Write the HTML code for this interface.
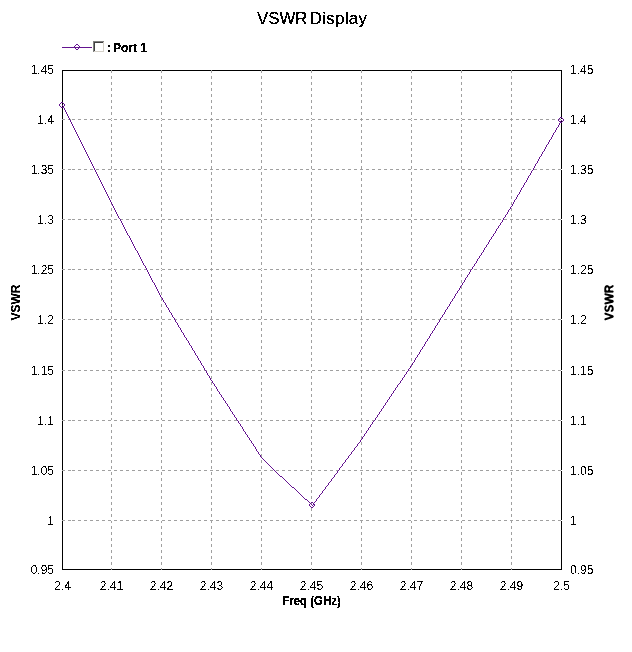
<!DOCTYPE html>
<html><head><meta charset="utf-8"><title>VSWR Display</title><style>
html,body{margin:0;padding:0;background:#fff;overflow:hidden}
svg{display:block}
text{font-family:"Liberation Sans",Arial,sans-serif;fill:#000}
.t{font-size:12px}
.b{font-size:12px;font-weight:bold}
</style></head><body>
<svg width="632" height="652" viewBox="0 0 632 652">
<defs><filter id="al" x="0" y="0" width="632" height="652" filterUnits="userSpaceOnUse"><feComponentTransfer><feFuncA type="discrete" tableValues="0 1"/></feComponentTransfer></filter><filter id="ab" x="0" y="0" width="632" height="652" filterUnits="userSpaceOnUse"><feComponentTransfer><feFuncA type="discrete" tableValues="0 1 1"/></feComponentTransfer></filter><filter id="ac" x="0" y="0" width="632" height="652" filterUnits="userSpaceOnUse"><feComponentTransfer><feFuncA type="linear" slope="2" intercept="-0.3"/></feComponentTransfer></filter></defs>
<rect width="632" height="652" fill="#fff"/>
<g shape-rendering="crispEdges"><line x1="62" y1="47.5" x2="92" y2="47.5" stroke="#641490"/></g>
<path d="M76 44h1v1h-1zM77 44h1v1h-1zM75 45h1v1h-1zM78 45h1v1h-1zM74 46h1v1h-1zM79 46h1v1h-1zM74 47h1v1h-1zM79 47h1v1h-1zM75 48h1v1h-1zM78 48h1v1h-1zM76 49h1v1h-1zM77 49h1v1h-1z" fill="#641490" shape-rendering="crispEdges"/>
<g shape-rendering="crispEdges"><rect x="93" y="41" width="12" height="12" fill="#fff"/><path d="M93.5 53V41.5H105" fill="none" stroke="#808080"/><path d="M94.5 52V42.5H104" fill="none" stroke="#404040"/><path d="M93 52.5H104.5V41" fill="none" stroke="#ffffff"/><path d="M94 51.5H103.5V42" fill="none" stroke="#d4d0c8"/></g>
<g shape-rendering="crispEdges" fill="none">
<rect x="62.5" y="70.5" width="499" height="499" stroke="#000"/>
</g>
<line x1="111.5" y1="70" x2="111.5" y2="570" stroke="#a0a0a0" stroke-dasharray="3 3" shape-rendering="crispEdges"/>
<line x1="161.5" y1="70" x2="161.5" y2="570" stroke="#a0a0a0" stroke-dasharray="3 3" shape-rendering="crispEdges"/>
<line x1="211.5" y1="70" x2="211.5" y2="570" stroke="#a0a0a0" stroke-dasharray="3 3" shape-rendering="crispEdges"/>
<line x1="261.5" y1="70" x2="261.5" y2="570" stroke="#a0a0a0" stroke-dasharray="3 3" shape-rendering="crispEdges"/>
<line x1="311.5" y1="70" x2="311.5" y2="570" stroke="#a0a0a0" stroke-dasharray="3 3" shape-rendering="crispEdges"/>
<line x1="361.5" y1="70" x2="361.5" y2="570" stroke="#a0a0a0" stroke-dasharray="3 3" shape-rendering="crispEdges"/>
<line x1="411.5" y1="70" x2="411.5" y2="570" stroke="#a0a0a0" stroke-dasharray="3 3" shape-rendering="crispEdges"/>
<line x1="461.5" y1="70" x2="461.5" y2="570" stroke="#a0a0a0" stroke-dasharray="3 3" shape-rendering="crispEdges"/>
<line x1="511.5" y1="70" x2="511.5" y2="570" stroke="#a0a0a0" stroke-dasharray="3 3" shape-rendering="crispEdges"/>
<path d="M62 119h3v1h-3zM68 119h3v1h-3zM72 119h3v1h-3zM78 119h3v1h-3zM84 119h3v1h-3zM90 119h3v1h-3zM96 119h3v1h-3zM102 119h3v1h-3zM108 119h3v1h-3zM114 119h3v1h-3zM120 119h3v1h-3zM126 119h3v1h-3zM132 119h3v1h-3zM138 119h3v1h-3zM144 119h3v1h-3zM150 119h3v1h-3zM156 119h3v1h-3zM162 119h3v1h-3zM168 119h3v1h-3zM174 119h3v1h-3zM180 119h3v1h-3zM186 119h3v1h-3zM192 119h3v1h-3zM198 119h3v1h-3zM204 119h3v1h-3zM210 119h3v1h-3zM216 119h3v1h-3zM222 119h3v1h-3zM228 119h3v1h-3zM234 119h3v1h-3zM240 119h3v1h-3zM246 119h3v1h-3zM252 119h3v1h-3zM258 119h3v1h-3zM264 119h3v1h-3zM270 119h3v1h-3zM276 119h3v1h-3zM282 119h3v1h-3zM288 119h3v1h-3zM294 119h3v1h-3zM300 119h3v1h-3zM306 119h3v1h-3zM312 119h3v1h-3zM318 119h3v1h-3zM324 119h3v1h-3zM330 119h3v1h-3zM336 119h3v1h-3zM342 119h3v1h-3zM348 119h3v1h-3zM354 119h3v1h-3zM360 119h3v1h-3zM366 119h3v1h-3zM372 119h3v1h-3zM378 119h3v1h-3zM384 119h3v1h-3zM390 119h3v1h-3zM396 119h3v1h-3zM402 119h3v1h-3zM408 119h3v1h-3zM414 119h3v1h-3zM420 119h3v1h-3zM426 119h3v1h-3zM432 119h3v1h-3zM438 119h3v1h-3zM444 119h3v1h-3zM450 119h3v1h-3zM456 119h3v1h-3zM462 119h3v1h-3zM468 119h3v1h-3zM474 119h3v1h-3zM480 119h3v1h-3zM486 119h3v1h-3zM492 119h3v1h-3zM498 119h3v1h-3zM504 119h3v1h-3zM510 119h3v1h-3zM516 119h3v1h-3zM522 119h3v1h-3zM528 119h3v1h-3zM534 119h3v1h-3zM540 119h3v1h-3zM546 119h3v1h-3zM552 119h3v1h-3zM558 119h3v1h-3zM62 169h3v1h-3zM68 169h3v1h-3zM72 169h3v1h-3zM78 169h3v1h-3zM84 169h3v1h-3zM90 169h3v1h-3zM96 169h3v1h-3zM102 169h3v1h-3zM108 169h3v1h-3zM114 169h3v1h-3zM120 169h3v1h-3zM126 169h3v1h-3zM132 169h3v1h-3zM138 169h3v1h-3zM144 169h3v1h-3zM150 169h3v1h-3zM156 169h3v1h-3zM162 169h3v1h-3zM168 169h3v1h-3zM174 169h3v1h-3zM180 169h3v1h-3zM186 169h3v1h-3zM192 169h3v1h-3zM198 169h3v1h-3zM204 169h3v1h-3zM210 169h3v1h-3zM216 169h3v1h-3zM222 169h3v1h-3zM228 169h3v1h-3zM234 169h3v1h-3zM240 169h3v1h-3zM246 169h3v1h-3zM252 169h3v1h-3zM258 169h3v1h-3zM264 169h3v1h-3zM270 169h3v1h-3zM276 169h3v1h-3zM282 169h3v1h-3zM288 169h3v1h-3zM294 169h3v1h-3zM300 169h3v1h-3zM306 169h3v1h-3zM312 169h3v1h-3zM318 169h3v1h-3zM324 169h3v1h-3zM330 169h3v1h-3zM336 169h3v1h-3zM342 169h3v1h-3zM348 169h3v1h-3zM354 169h3v1h-3zM360 169h3v1h-3zM366 169h3v1h-3zM372 169h3v1h-3zM378 169h3v1h-3zM384 169h3v1h-3zM390 169h3v1h-3zM396 169h3v1h-3zM402 169h3v1h-3zM408 169h3v1h-3zM414 169h3v1h-3zM420 169h3v1h-3zM426 169h3v1h-3zM432 169h3v1h-3zM438 169h3v1h-3zM444 169h3v1h-3zM450 169h3v1h-3zM456 169h3v1h-3zM462 169h3v1h-3zM468 169h3v1h-3zM474 169h3v1h-3zM480 169h3v1h-3zM486 169h3v1h-3zM492 169h3v1h-3zM498 169h3v1h-3zM504 169h3v1h-3zM510 169h3v1h-3zM516 169h3v1h-3zM522 169h3v1h-3zM528 169h3v1h-3zM534 169h3v1h-3zM540 169h3v1h-3zM546 169h3v1h-3zM552 169h3v1h-3zM558 169h3v1h-3zM62 219h3v1h-3zM68 219h3v1h-3zM72 219h3v1h-3zM78 219h3v1h-3zM84 219h3v1h-3zM90 219h3v1h-3zM96 219h3v1h-3zM102 219h3v1h-3zM108 219h3v1h-3zM114 219h3v1h-3zM120 219h3v1h-3zM126 219h3v1h-3zM132 219h3v1h-3zM138 219h3v1h-3zM144 219h3v1h-3zM150 219h3v1h-3zM156 219h3v1h-3zM162 219h3v1h-3zM168 219h3v1h-3zM174 219h3v1h-3zM180 219h3v1h-3zM186 219h3v1h-3zM192 219h3v1h-3zM198 219h3v1h-3zM204 219h3v1h-3zM210 219h3v1h-3zM216 219h3v1h-3zM222 219h3v1h-3zM228 219h3v1h-3zM234 219h3v1h-3zM240 219h3v1h-3zM246 219h3v1h-3zM252 219h3v1h-3zM258 219h3v1h-3zM264 219h3v1h-3zM270 219h3v1h-3zM276 219h3v1h-3zM282 219h3v1h-3zM288 219h3v1h-3zM294 219h3v1h-3zM300 219h3v1h-3zM306 219h3v1h-3zM312 219h3v1h-3zM318 219h3v1h-3zM324 219h3v1h-3zM330 219h3v1h-3zM336 219h3v1h-3zM342 219h3v1h-3zM348 219h3v1h-3zM354 219h3v1h-3zM360 219h3v1h-3zM366 219h3v1h-3zM372 219h3v1h-3zM378 219h3v1h-3zM384 219h3v1h-3zM390 219h3v1h-3zM396 219h3v1h-3zM402 219h3v1h-3zM408 219h3v1h-3zM414 219h3v1h-3zM420 219h3v1h-3zM426 219h3v1h-3zM432 219h3v1h-3zM438 219h3v1h-3zM444 219h3v1h-3zM450 219h3v1h-3zM456 219h3v1h-3zM462 219h3v1h-3zM468 219h3v1h-3zM474 219h3v1h-3zM480 219h3v1h-3zM486 219h3v1h-3zM492 219h3v1h-3zM498 219h3v1h-3zM504 219h3v1h-3zM510 219h3v1h-3zM516 219h3v1h-3zM522 219h3v1h-3zM528 219h3v1h-3zM534 219h3v1h-3zM540 219h3v1h-3zM546 219h3v1h-3zM552 219h3v1h-3zM558 219h3v1h-3zM62 269h3v1h-3zM68 269h3v1h-3zM72 269h3v1h-3zM78 269h3v1h-3zM84 269h3v1h-3zM90 269h3v1h-3zM96 269h3v1h-3zM102 269h3v1h-3zM108 269h3v1h-3zM114 269h3v1h-3zM120 269h3v1h-3zM126 269h3v1h-3zM132 269h3v1h-3zM138 269h3v1h-3zM144 269h3v1h-3zM150 269h3v1h-3zM156 269h3v1h-3zM162 269h3v1h-3zM168 269h3v1h-3zM174 269h3v1h-3zM180 269h3v1h-3zM186 269h3v1h-3zM192 269h3v1h-3zM198 269h3v1h-3zM204 269h3v1h-3zM210 269h3v1h-3zM216 269h3v1h-3zM222 269h3v1h-3zM228 269h3v1h-3zM234 269h3v1h-3zM240 269h3v1h-3zM246 269h3v1h-3zM252 269h3v1h-3zM258 269h3v1h-3zM264 269h3v1h-3zM270 269h3v1h-3zM276 269h3v1h-3zM282 269h3v1h-3zM288 269h3v1h-3zM294 269h3v1h-3zM300 269h3v1h-3zM306 269h3v1h-3zM312 269h3v1h-3zM318 269h3v1h-3zM324 269h3v1h-3zM330 269h3v1h-3zM336 269h3v1h-3zM342 269h3v1h-3zM348 269h3v1h-3zM354 269h3v1h-3zM360 269h3v1h-3zM366 269h3v1h-3zM372 269h3v1h-3zM378 269h3v1h-3zM384 269h3v1h-3zM390 269h3v1h-3zM396 269h3v1h-3zM402 269h3v1h-3zM408 269h3v1h-3zM414 269h3v1h-3zM420 269h3v1h-3zM426 269h3v1h-3zM432 269h3v1h-3zM438 269h3v1h-3zM444 269h3v1h-3zM450 269h3v1h-3zM456 269h3v1h-3zM462 269h3v1h-3zM468 269h3v1h-3zM474 269h3v1h-3zM480 269h3v1h-3zM486 269h3v1h-3zM492 269h3v1h-3zM498 269h3v1h-3zM504 269h3v1h-3zM510 269h3v1h-3zM516 269h3v1h-3zM522 269h3v1h-3zM528 269h3v1h-3zM534 269h3v1h-3zM540 269h3v1h-3zM546 269h3v1h-3zM552 269h3v1h-3zM558 269h3v1h-3zM62 319h3v1h-3zM68 319h3v1h-3zM72 319h3v1h-3zM78 319h3v1h-3zM84 319h3v1h-3zM90 319h3v1h-3zM96 319h3v1h-3zM102 319h3v1h-3zM108 319h3v1h-3zM114 319h3v1h-3zM120 319h3v1h-3zM126 319h3v1h-3zM132 319h3v1h-3zM138 319h3v1h-3zM144 319h3v1h-3zM150 319h3v1h-3zM156 319h3v1h-3zM162 319h3v1h-3zM168 319h3v1h-3zM174 319h3v1h-3zM180 319h3v1h-3zM186 319h3v1h-3zM192 319h3v1h-3zM198 319h3v1h-3zM204 319h3v1h-3zM210 319h3v1h-3zM216 319h3v1h-3zM222 319h3v1h-3zM228 319h3v1h-3zM234 319h3v1h-3zM240 319h3v1h-3zM246 319h3v1h-3zM252 319h3v1h-3zM258 319h3v1h-3zM264 319h3v1h-3zM270 319h3v1h-3zM276 319h3v1h-3zM282 319h3v1h-3zM288 319h3v1h-3zM294 319h3v1h-3zM300 319h3v1h-3zM306 319h3v1h-3zM312 319h3v1h-3zM318 319h3v1h-3zM324 319h3v1h-3zM330 319h3v1h-3zM336 319h3v1h-3zM342 319h3v1h-3zM348 319h3v1h-3zM354 319h3v1h-3zM360 319h3v1h-3zM366 319h3v1h-3zM372 319h3v1h-3zM378 319h3v1h-3zM384 319h3v1h-3zM390 319h3v1h-3zM396 319h3v1h-3zM402 319h3v1h-3zM408 319h3v1h-3zM414 319h3v1h-3zM420 319h3v1h-3zM426 319h3v1h-3zM432 319h3v1h-3zM438 319h3v1h-3zM444 319h3v1h-3zM450 319h3v1h-3zM456 319h3v1h-3zM462 319h3v1h-3zM468 319h3v1h-3zM474 319h3v1h-3zM480 319h3v1h-3zM486 319h3v1h-3zM492 319h3v1h-3zM498 319h3v1h-3zM504 319h3v1h-3zM510 319h3v1h-3zM516 319h3v1h-3zM522 319h3v1h-3zM528 319h3v1h-3zM534 319h3v1h-3zM540 319h3v1h-3zM546 319h3v1h-3zM552 319h3v1h-3zM558 319h3v1h-3zM62 370h3v1h-3zM68 370h3v1h-3zM72 370h3v1h-3zM78 370h3v1h-3zM84 370h3v1h-3zM90 370h3v1h-3zM96 370h3v1h-3zM102 370h3v1h-3zM108 370h3v1h-3zM114 370h3v1h-3zM120 370h3v1h-3zM126 370h3v1h-3zM132 370h3v1h-3zM138 370h3v1h-3zM144 370h3v1h-3zM150 370h3v1h-3zM156 370h3v1h-3zM162 370h3v1h-3zM168 370h3v1h-3zM174 370h3v1h-3zM180 370h3v1h-3zM186 370h3v1h-3zM192 370h3v1h-3zM198 370h3v1h-3zM204 370h3v1h-3zM210 370h3v1h-3zM216 370h3v1h-3zM222 370h3v1h-3zM228 370h3v1h-3zM234 370h3v1h-3zM240 370h3v1h-3zM246 370h3v1h-3zM252 370h3v1h-3zM258 370h3v1h-3zM264 370h3v1h-3zM270 370h3v1h-3zM276 370h3v1h-3zM282 370h3v1h-3zM288 370h3v1h-3zM294 370h3v1h-3zM300 370h3v1h-3zM306 370h3v1h-3zM312 370h3v1h-3zM318 370h3v1h-3zM324 370h3v1h-3zM330 370h3v1h-3zM336 370h3v1h-3zM342 370h3v1h-3zM348 370h3v1h-3zM354 370h3v1h-3zM360 370h3v1h-3zM366 370h3v1h-3zM372 370h3v1h-3zM378 370h3v1h-3zM384 370h3v1h-3zM390 370h3v1h-3zM396 370h3v1h-3zM402 370h3v1h-3zM408 370h3v1h-3zM414 370h3v1h-3zM420 370h3v1h-3zM426 370h3v1h-3zM432 370h3v1h-3zM438 370h3v1h-3zM444 370h3v1h-3zM450 370h3v1h-3zM456 370h3v1h-3zM462 370h3v1h-3zM468 370h3v1h-3zM474 370h3v1h-3zM480 370h3v1h-3zM486 370h3v1h-3zM492 370h3v1h-3zM498 370h3v1h-3zM504 370h3v1h-3zM510 370h3v1h-3zM516 370h3v1h-3zM522 370h3v1h-3zM528 370h3v1h-3zM534 370h3v1h-3zM540 370h3v1h-3zM546 370h3v1h-3zM552 370h3v1h-3zM558 370h3v1h-3zM62 420h3v1h-3zM68 420h3v1h-3zM72 420h3v1h-3zM78 420h3v1h-3zM84 420h3v1h-3zM90 420h3v1h-3zM96 420h3v1h-3zM102 420h3v1h-3zM108 420h3v1h-3zM114 420h3v1h-3zM120 420h3v1h-3zM126 420h3v1h-3zM132 420h3v1h-3zM138 420h3v1h-3zM144 420h3v1h-3zM150 420h3v1h-3zM156 420h3v1h-3zM162 420h3v1h-3zM168 420h3v1h-3zM174 420h3v1h-3zM180 420h3v1h-3zM186 420h3v1h-3zM192 420h3v1h-3zM198 420h3v1h-3zM204 420h3v1h-3zM210 420h3v1h-3zM216 420h3v1h-3zM222 420h3v1h-3zM228 420h3v1h-3zM234 420h3v1h-3zM240 420h3v1h-3zM246 420h3v1h-3zM252 420h3v1h-3zM258 420h3v1h-3zM264 420h3v1h-3zM270 420h3v1h-3zM276 420h3v1h-3zM282 420h3v1h-3zM288 420h3v1h-3zM294 420h3v1h-3zM300 420h3v1h-3zM306 420h3v1h-3zM312 420h3v1h-3zM318 420h3v1h-3zM324 420h3v1h-3zM330 420h3v1h-3zM336 420h3v1h-3zM342 420h3v1h-3zM348 420h3v1h-3zM354 420h3v1h-3zM360 420h3v1h-3zM366 420h3v1h-3zM372 420h3v1h-3zM378 420h3v1h-3zM384 420h3v1h-3zM390 420h3v1h-3zM396 420h3v1h-3zM402 420h3v1h-3zM408 420h3v1h-3zM414 420h3v1h-3zM420 420h3v1h-3zM426 420h3v1h-3zM432 420h3v1h-3zM438 420h3v1h-3zM444 420h3v1h-3zM450 420h3v1h-3zM456 420h3v1h-3zM462 420h3v1h-3zM468 420h3v1h-3zM474 420h3v1h-3zM480 420h3v1h-3zM486 420h3v1h-3zM492 420h3v1h-3zM498 420h3v1h-3zM504 420h3v1h-3zM510 420h3v1h-3zM516 420h3v1h-3zM522 420h3v1h-3zM528 420h3v1h-3zM534 420h3v1h-3zM540 420h3v1h-3zM546 420h3v1h-3zM552 420h3v1h-3zM558 420h3v1h-3zM62 470h3v1h-3zM68 470h3v1h-3zM72 470h3v1h-3zM78 470h3v1h-3zM84 470h3v1h-3zM90 470h3v1h-3zM96 470h3v1h-3zM102 470h3v1h-3zM108 470h3v1h-3zM114 470h3v1h-3zM120 470h3v1h-3zM126 470h3v1h-3zM132 470h3v1h-3zM138 470h3v1h-3zM144 470h3v1h-3zM150 470h3v1h-3zM156 470h3v1h-3zM162 470h3v1h-3zM168 470h3v1h-3zM174 470h3v1h-3zM180 470h3v1h-3zM186 470h3v1h-3zM192 470h3v1h-3zM198 470h3v1h-3zM204 470h3v1h-3zM210 470h3v1h-3zM216 470h3v1h-3zM222 470h3v1h-3zM228 470h3v1h-3zM234 470h3v1h-3zM240 470h3v1h-3zM246 470h3v1h-3zM252 470h3v1h-3zM258 470h3v1h-3zM264 470h3v1h-3zM270 470h3v1h-3zM276 470h3v1h-3zM282 470h3v1h-3zM288 470h3v1h-3zM294 470h3v1h-3zM300 470h3v1h-3zM306 470h3v1h-3zM312 470h3v1h-3zM318 470h3v1h-3zM324 470h3v1h-3zM330 470h3v1h-3zM336 470h3v1h-3zM342 470h3v1h-3zM348 470h3v1h-3zM354 470h3v1h-3zM360 470h3v1h-3zM366 470h3v1h-3zM372 470h3v1h-3zM378 470h3v1h-3zM384 470h3v1h-3zM390 470h3v1h-3zM396 470h3v1h-3zM402 470h3v1h-3zM408 470h3v1h-3zM414 470h3v1h-3zM420 470h3v1h-3zM426 470h3v1h-3zM432 470h3v1h-3zM438 470h3v1h-3zM444 470h3v1h-3zM450 470h3v1h-3zM456 470h3v1h-3zM462 470h3v1h-3zM468 470h3v1h-3zM474 470h3v1h-3zM480 470h3v1h-3zM486 470h3v1h-3zM492 470h3v1h-3zM498 470h3v1h-3zM504 470h3v1h-3zM510 470h3v1h-3zM516 470h3v1h-3zM522 470h3v1h-3zM528 470h3v1h-3zM534 470h3v1h-3zM540 470h3v1h-3zM546 470h3v1h-3zM552 470h3v1h-3zM558 470h3v1h-3zM62 520h3v1h-3zM68 520h3v1h-3zM72 520h3v1h-3zM78 520h3v1h-3zM84 520h3v1h-3zM90 520h3v1h-3zM96 520h3v1h-3zM102 520h3v1h-3zM108 520h3v1h-3zM114 520h3v1h-3zM120 520h3v1h-3zM126 520h3v1h-3zM132 520h3v1h-3zM138 520h3v1h-3zM144 520h3v1h-3zM150 520h3v1h-3zM156 520h3v1h-3zM162 520h3v1h-3zM168 520h3v1h-3zM174 520h3v1h-3zM180 520h3v1h-3zM186 520h3v1h-3zM192 520h3v1h-3zM198 520h3v1h-3zM204 520h3v1h-3zM210 520h3v1h-3zM216 520h3v1h-3zM222 520h3v1h-3zM228 520h3v1h-3zM234 520h3v1h-3zM240 520h3v1h-3zM246 520h3v1h-3zM252 520h3v1h-3zM258 520h3v1h-3zM264 520h3v1h-3zM270 520h3v1h-3zM276 520h3v1h-3zM282 520h3v1h-3zM288 520h3v1h-3zM294 520h3v1h-3zM300 520h3v1h-3zM306 520h3v1h-3zM312 520h3v1h-3zM318 520h3v1h-3zM324 520h3v1h-3zM330 520h3v1h-3zM336 520h3v1h-3zM342 520h3v1h-3zM348 520h3v1h-3zM354 520h3v1h-3zM360 520h3v1h-3zM366 520h3v1h-3zM372 520h3v1h-3zM378 520h3v1h-3zM384 520h3v1h-3zM390 520h3v1h-3zM396 520h3v1h-3zM402 520h3v1h-3zM408 520h3v1h-3zM414 520h3v1h-3zM420 520h3v1h-3zM426 520h3v1h-3zM432 520h3v1h-3zM438 520h3v1h-3zM444 520h3v1h-3zM450 520h3v1h-3zM456 520h3v1h-3zM462 520h3v1h-3zM468 520h3v1h-3zM474 520h3v1h-3zM480 520h3v1h-3zM486 520h3v1h-3zM492 520h3v1h-3zM498 520h3v1h-3zM504 520h3v1h-3zM510 520h3v1h-3zM516 520h3v1h-3zM522 520h3v1h-3zM528 520h3v1h-3zM534 520h3v1h-3zM540 520h3v1h-3zM546 520h3v1h-3zM552 520h3v1h-3zM558 520h3v1h-3z" fill="#a0a0a0" shape-rendering="crispEdges"/>
<path d="M561 119h1v1h-1zM111 119h1v1h-1zM161 119h1v1h-1zM261 119h1v1h-1zM311 119h1v1h-1zM411 119h1v1h-1zM461 119h1v1h-1zM561 169h1v1h-1zM561 219h1v1h-1zM561 269h1v1h-1zM111 269h1v1h-1zM161 269h1v1h-1zM261 269h1v1h-1zM311 269h1v1h-1zM411 269h1v1h-1zM461 269h1v1h-1zM561 319h1v1h-1zM561 370h1v1h-1zM111 370h1v1h-1zM161 370h1v1h-1zM261 370h1v1h-1zM311 370h1v1h-1zM411 370h1v1h-1zM461 370h1v1h-1zM561 420h1v1h-1zM111 420h1v1h-1zM161 420h1v1h-1zM261 420h1v1h-1zM311 420h1v1h-1zM411 420h1v1h-1zM461 420h1v1h-1zM561 470h1v1h-1zM561 520h1v1h-1zM111 520h1v1h-1zM161 520h1v1h-1zM261 520h1v1h-1zM311 520h1v1h-1zM411 520h1v1h-1zM461 520h1v1h-1z" fill="#fff" shape-rendering="crispEdges"/>
<path d="M62 105h1v1h-1zM63 106h1v1h-1zM63 107h1v1h-1zM64 108h1v1h-1zM64 109h1v1h-1zM65 110h1v1h-1zM65 111h1v1h-1zM66 112h1v1h-1zM66 113h1v1h-1zM67 114h1v1h-1zM67 115h1v1h-1zM68 116h1v1h-1zM68 117h1v1h-1zM69 118h1v1h-1zM69 119h1v1h-1zM70 120h1v1h-1zM561 120h1v1h-1zM70 121h1v1h-1zM560 121h1v1h-1zM71 122h1v1h-1zM560 122h1v1h-1zM71 123h1v1h-1zM559 123h1v1h-1zM72 124h1v1h-1zM559 124h1v1h-1zM72 125h1v1h-1zM558 125h1v1h-1zM73 126h1v1h-1zM558 126h1v1h-1zM73 127h1v1h-1zM557 127h1v1h-1zM74 128h1v1h-1zM556 128h1v1h-1zM74 129h1v1h-1zM556 129h1v1h-1zM75 130h1v1h-1zM555 130h1v1h-1zM75 131h1v1h-1zM555 131h1v1h-1zM76 132h1v1h-1zM554 132h1v1h-1zM76 133h1v1h-1zM553 133h1v1h-1zM77 134h1v1h-1zM553 134h1v1h-1zM77 135h1v1h-1zM552 135h1v1h-1zM78 136h1v1h-1zM552 136h1v1h-1zM78 137h1v1h-1zM551 137h1v1h-1zM79 138h1v1h-1zM551 138h1v1h-1zM79 139h1v1h-1zM550 139h1v1h-1zM80 140h1v1h-1zM549 140h1v1h-1zM80 141h1v1h-1zM549 141h1v1h-1zM81 142h1v1h-1zM548 142h1v1h-1zM81 143h1v1h-1zM548 143h1v1h-1zM82 144h1v1h-1zM547 144h1v1h-1zM82 145h1v1h-1zM546 145h1v1h-1zM83 146h1v1h-1zM546 146h1v1h-1zM83 147h1v1h-1zM545 147h1v1h-1zM84 148h1v1h-1zM545 148h1v1h-1zM84 149h1v1h-1zM544 149h1v1h-1zM85 150h1v1h-1zM544 150h1v1h-1zM85 151h1v1h-1zM543 151h1v1h-1zM86 152h1v1h-1zM542 152h1v1h-1zM86 153h1v1h-1zM542 153h1v1h-1zM87 154h1v1h-1zM541 154h1v1h-1zM87 155h1v1h-1zM541 155h1v1h-1zM88 156h1v1h-1zM540 156h1v1h-1zM88 157h1v1h-1zM539 157h1v1h-1zM89 158h1v1h-1zM539 158h1v1h-1zM89 159h1v1h-1zM538 159h1v1h-1zM90 160h1v1h-1zM538 160h1v1h-1zM90 161h1v1h-1zM537 161h1v1h-1zM91 162h1v1h-1zM537 162h1v1h-1zM91 163h1v1h-1zM536 163h1v1h-1zM92 164h1v1h-1zM535 164h1v1h-1zM92 165h1v1h-1zM535 165h1v1h-1zM93 166h1v1h-1zM534 166h1v1h-1zM93 167h1v1h-1zM534 167h1v1h-1zM94 168h1v1h-1zM533 168h1v1h-1zM94 169h1v1h-1zM533 169h1v1h-1zM95 170h1v1h-1zM532 170h1v1h-1zM95 171h1v1h-1zM531 171h1v1h-1zM96 172h1v1h-1zM531 172h1v1h-1zM96 173h1v1h-1zM530 173h1v1h-1zM97 174h1v1h-1zM530 174h1v1h-1zM97 175h1v1h-1zM529 175h1v1h-1zM98 176h1v1h-1zM528 176h1v1h-1zM98 177h1v1h-1zM528 177h1v1h-1zM99 178h1v1h-1zM527 178h1v1h-1zM99 179h1v1h-1zM527 179h1v1h-1zM100 180h1v1h-1zM526 180h1v1h-1zM100 181h1v1h-1zM526 181h1v1h-1zM101 182h1v1h-1zM525 182h1v1h-1zM101 183h1v1h-1zM524 183h1v1h-1zM102 184h1v1h-1zM524 184h1v1h-1zM102 185h1v1h-1zM523 185h1v1h-1zM103 186h1v1h-1zM523 186h1v1h-1zM103 187h1v1h-1zM522 187h1v1h-1zM104 188h1v1h-1zM521 188h1v1h-1zM104 189h1v1h-1zM521 189h1v1h-1zM105 190h1v1h-1zM520 190h1v1h-1zM105 191h1v1h-1zM520 191h1v1h-1zM106 192h1v1h-1zM519 192h1v1h-1zM106 193h1v1h-1zM519 193h1v1h-1zM107 194h1v1h-1zM518 194h1v1h-1zM107 195h1v1h-1zM517 195h1v1h-1zM108 196h1v1h-1zM517 196h1v1h-1zM108 197h1v1h-1zM516 197h1v1h-1zM109 198h1v1h-1zM516 198h1v1h-1zM109 199h1v1h-1zM515 199h1v1h-1zM110 200h1v1h-1zM514 200h1v1h-1zM110 201h1v1h-1zM514 201h1v1h-1zM111 202h1v1h-1zM513 202h1v1h-1zM111 203h1v1h-1zM513 203h1v1h-1zM112 204h1v1h-1zM512 204h1v1h-1zM112 205h1v1h-1zM512 205h1v1h-1zM113 206h1v1h-1zM511 206h1v1h-1zM113 207h1v1h-1zM510 207h1v1h-1zM114 208h1v1h-1zM510 208h1v1h-1zM114 209h1v1h-1zM509 209h1v1h-1zM115 210h1v1h-1zM508 210h1v1h-1zM115 211h1v1h-1zM508 211h1v1h-1zM116 212h1v1h-1zM507 212h1v1h-1zM116 213h1v1h-1zM507 213h1v1h-1zM117 214h1v1h-1zM506 214h1v1h-1zM117 215h1v1h-1zM505 215h1v1h-1zM118 216h1v1h-1zM505 216h1v1h-1zM118 217h1v1h-1zM504 217h1v1h-1zM119 218h1v1h-1zM503 218h1v1h-1zM120 219h1v1h-1zM503 219h1v1h-1zM120 220h1v1h-1zM502 220h1v1h-1zM121 221h1v1h-1zM502 221h1v1h-1zM121 222h1v1h-1zM501 222h1v1h-1zM122 223h1v1h-1zM500 223h1v1h-1zM122 224h1v1h-1zM500 224h1v1h-1zM123 225h1v1h-1zM499 225h1v1h-1zM123 226h1v1h-1zM498 226h1v1h-1zM124 227h1v1h-1zM498 227h1v1h-1zM124 228h1v1h-1zM497 228h1v1h-1zM125 229h1v1h-1zM496 229h1v1h-1zM125 230h1v1h-1zM496 230h1v1h-1zM126 231h1v1h-1zM495 231h1v1h-1zM126 232h1v1h-1zM495 232h1v1h-1zM127 233h1v1h-1zM494 233h1v1h-1zM127 234h1v1h-1zM493 234h1v1h-1zM128 235h1v1h-1zM493 235h1v1h-1zM129 236h1v1h-1zM492 236h1v1h-1zM129 237h1v1h-1zM491 237h1v1h-1zM130 238h1v1h-1zM491 238h1v1h-1zM130 239h1v1h-1zM490 239h1v1h-1zM131 240h1v1h-1zM489 240h1v1h-1zM131 241h1v1h-1zM489 241h1v1h-1zM132 242h1v1h-1zM488 242h1v1h-1zM132 243h1v1h-1zM488 243h1v1h-1zM133 244h1v1h-1zM487 244h1v1h-1zM133 245h1v1h-1zM486 245h1v1h-1zM134 246h1v1h-1zM486 246h1v1h-1zM134 247h1v1h-1zM485 247h1v1h-1zM135 248h1v1h-1zM484 248h1v1h-1zM135 249h1v1h-1zM484 249h1v1h-1zM136 250h1v1h-1zM483 250h1v1h-1zM137 251h1v1h-1zM483 251h1v1h-1zM137 252h1v1h-1zM482 252h1v1h-1zM138 253h1v1h-1zM481 253h1v1h-1zM138 254h1v1h-1zM481 254h1v1h-1zM139 255h1v1h-1zM480 255h1v1h-1zM139 256h1v1h-1zM479 256h1v1h-1zM140 257h1v1h-1zM479 257h1v1h-1zM140 258h1v1h-1zM478 258h1v1h-1zM141 259h1v1h-1zM477 259h1v1h-1zM141 260h1v1h-1zM477 260h1v1h-1zM142 261h1v1h-1zM476 261h1v1h-1zM142 262h1v1h-1zM476 262h1v1h-1zM143 263h1v1h-1zM475 263h1v1h-1zM143 264h1v1h-1zM474 264h1v1h-1zM144 265h1v1h-1zM474 265h1v1h-1zM145 266h1v1h-1zM473 266h1v1h-1zM145 267h1v1h-1zM472 267h1v1h-1zM146 268h1v1h-1zM472 268h1v1h-1zM146 269h1v1h-1zM471 269h1v1h-1zM147 270h1v1h-1zM470 270h1v1h-1zM147 271h1v1h-1zM470 271h1v1h-1zM148 272h1v1h-1zM469 272h1v1h-1zM148 273h1v1h-1zM469 273h1v1h-1zM149 274h1v1h-1zM468 274h1v1h-1zM149 275h1v1h-1zM467 275h1v1h-1zM150 276h1v1h-1zM467 276h1v1h-1zM150 277h1v1h-1zM466 277h1v1h-1zM151 278h1v1h-1zM465 278h1v1h-1zM151 279h1v1h-1zM465 279h1v1h-1zM152 280h1v1h-1zM464 280h1v1h-1zM152 281h1v1h-1zM464 281h1v1h-1zM153 282h1v1h-1zM463 282h1v1h-1zM154 283h1v1h-1zM462 283h1v1h-1zM154 284h1v1h-1zM462 284h1v1h-1zM155 285h1v1h-1zM461 285h1v1h-1zM155 286h1v1h-1zM460 286h1v1h-1zM156 287h1v1h-1zM460 287h1v1h-1zM156 288h1v1h-1zM459 288h1v1h-1zM157 289h1v1h-1zM459 289h1v1h-1zM157 290h1v1h-1zM458 290h1v1h-1zM158 291h1v1h-1zM457 291h1v1h-1zM158 292h1v1h-1zM457 292h1v1h-1zM159 293h1v1h-1zM456 293h1v1h-1zM159 294h1v1h-1zM455 294h1v1h-1zM160 295h1v1h-1zM455 295h1v1h-1zM160 296h1v1h-1zM454 296h1v1h-1zM161 297h1v1h-1zM454 297h1v1h-1zM162 298h1v1h-1zM453 298h1v1h-1zM162 299h1v1h-1zM452 299h1v1h-1zM163 300h1v1h-1zM452 300h1v1h-1zM163 301h1v1h-1zM451 301h1v1h-1zM164 302h1v1h-1zM450 302h1v1h-1zM165 303h1v1h-1zM450 303h1v1h-1zM165 304h1v1h-1zM449 304h1v1h-1zM166 305h1v1h-1zM449 305h1v1h-1zM166 306h1v1h-1zM448 306h1v1h-1zM167 307h1v1h-1zM447 307h1v1h-1zM168 308h1v1h-1zM447 308h1v1h-1zM168 309h1v1h-1zM446 309h1v1h-1zM169 310h1v1h-1zM445 310h1v1h-1zM169 311h1v1h-1zM445 311h1v1h-1zM170 312h1v1h-1zM444 312h1v1h-1zM171 313h1v1h-1zM444 313h1v1h-1zM171 314h1v1h-1zM443 314h1v1h-1zM172 315h1v1h-1zM442 315h1v1h-1zM172 316h1v1h-1zM442 316h1v1h-1zM173 317h1v1h-1zM441 317h1v1h-1zM174 318h1v1h-1zM440 318h1v1h-1zM174 319h1v1h-1zM440 319h1v1h-1zM175 320h1v1h-1zM439 320h1v1h-1zM175 321h1v1h-1zM439 321h1v1h-1zM176 322h1v1h-1zM438 322h1v1h-1zM177 323h1v1h-1zM437 323h1v1h-1zM177 324h1v1h-1zM437 324h1v1h-1zM178 325h1v1h-1zM436 325h1v1h-1zM178 326h1v1h-1zM435 326h1v1h-1zM179 327h1v1h-1zM435 327h1v1h-1zM180 328h1v1h-1zM434 328h1v1h-1zM180 329h1v1h-1zM434 329h1v1h-1zM181 330h1v1h-1zM433 330h1v1h-1zM181 331h1v1h-1zM432 331h1v1h-1zM182 332h1v1h-1zM432 332h1v1h-1zM183 333h1v1h-1zM431 333h1v1h-1zM183 334h1v1h-1zM430 334h1v1h-1zM184 335h1v1h-1zM430 335h1v1h-1zM184 336h1v1h-1zM429 336h1v1h-1zM185 337h1v1h-1zM429 337h1v1h-1zM186 338h1v1h-1zM428 338h1v1h-1zM186 339h1v1h-1zM427 339h1v1h-1zM187 340h1v1h-1zM427 340h1v1h-1zM188 341h1v1h-1zM426 341h1v1h-1zM188 342h1v1h-1zM425 342h1v1h-1zM189 343h1v1h-1zM425 343h1v1h-1zM189 344h1v1h-1zM424 344h1v1h-1zM190 345h1v1h-1zM424 345h1v1h-1zM191 346h1v1h-1zM423 346h1v1h-1zM191 347h1v1h-1zM422 347h1v1h-1zM192 348h1v1h-1zM422 348h1v1h-1zM192 349h1v1h-1zM421 349h1v1h-1zM193 350h1v1h-1zM420 350h1v1h-1zM194 351h1v1h-1zM420 351h1v1h-1zM194 352h1v1h-1zM419 352h1v1h-1zM195 353h1v1h-1zM419 353h1v1h-1zM195 354h1v1h-1zM418 354h1v1h-1zM196 355h1v1h-1zM417 355h1v1h-1zM197 356h1v1h-1zM417 356h1v1h-1zM197 357h1v1h-1zM416 357h1v1h-1zM198 358h1v1h-1zM415 358h1v1h-1zM198 359h1v1h-1zM415 359h1v1h-1zM199 360h1v1h-1zM414 360h1v1h-1zM200 361h1v1h-1zM414 361h1v1h-1zM200 362h1v1h-1zM413 362h1v1h-1zM201 363h1v1h-1zM412 363h1v1h-1zM201 364h1v1h-1zM412 364h1v1h-1zM202 365h1v1h-1zM411 365h1v1h-1zM203 366h1v1h-1zM410 366h1v1h-1zM203 367h1v1h-1zM410 367h1v1h-1zM204 368h1v1h-1zM409 368h1v1h-1zM204 369h1v1h-1zM408 369h1v1h-1zM205 370h1v1h-1zM408 370h1v1h-1zM206 371h1v1h-1zM407 371h1v1h-1zM206 372h1v1h-1zM406 372h1v1h-1zM207 373h1v1h-1zM406 373h1v1h-1zM207 374h1v1h-1zM405 374h1v1h-1zM208 375h1v1h-1zM404 375h1v1h-1zM209 376h1v1h-1zM404 376h1v1h-1zM209 377h1v1h-1zM403 377h1v1h-1zM210 378h1v1h-1zM402 378h1v1h-1zM210 379h1v1h-1zM402 379h1v1h-1zM211 380h1v1h-1zM401 380h1v1h-1zM212 381h1v1h-1zM400 381h1v1h-1zM212 382h1v1h-1zM400 382h1v1h-1zM213 383h1v1h-1zM399 383h1v1h-1zM214 384h1v1h-1zM398 384h1v1h-1zM214 385h1v1h-1zM397 385h1v1h-1zM215 386h1v1h-1zM397 386h1v1h-1zM216 387h1v1h-1zM396 387h1v1h-1zM216 388h1v1h-1zM395 388h1v1h-1zM217 389h1v1h-1zM395 389h1v1h-1zM217 390h1v1h-1zM394 390h1v1h-1zM218 391h1v1h-1zM393 391h1v1h-1zM219 392h1v1h-1zM393 392h1v1h-1zM219 393h1v1h-1zM392 393h1v1h-1zM220 394h1v1h-1zM391 394h1v1h-1zM221 395h1v1h-1zM391 395h1v1h-1zM221 396h1v1h-1zM390 396h1v1h-1zM222 397h1v1h-1zM389 397h1v1h-1zM223 398h1v1h-1zM389 398h1v1h-1zM223 399h1v1h-1zM388 399h1v1h-1zM224 400h1v1h-1zM387 400h1v1h-1zM225 401h1v1h-1zM387 401h1v1h-1zM225 402h1v1h-1zM386 402h1v1h-1zM226 403h1v1h-1zM385 403h1v1h-1zM227 404h1v1h-1zM385 404h1v1h-1zM227 405h1v1h-1zM384 405h1v1h-1zM228 406h1v1h-1zM383 406h1v1h-1zM229 407h1v1h-1zM383 407h1v1h-1zM229 408h1v1h-1zM382 408h1v1h-1zM230 409h1v1h-1zM381 409h1v1h-1zM230 410h1v1h-1zM381 410h1v1h-1zM231 411h1v1h-1zM380 411h1v1h-1zM232 412h1v1h-1zM379 412h1v1h-1zM232 413h1v1h-1zM379 413h1v1h-1zM233 414h1v1h-1zM378 414h1v1h-1zM234 415h1v1h-1zM377 415h1v1h-1zM234 416h1v1h-1zM377 416h1v1h-1zM235 417h1v1h-1zM376 417h1v1h-1zM236 418h1v1h-1zM375 418h1v1h-1zM236 419h1v1h-1zM375 419h1v1h-1zM237 420h1v1h-1zM374 420h1v1h-1zM238 421h1v1h-1zM373 421h1v1h-1zM238 422h1v1h-1zM372 422h1v1h-1zM239 423h1v1h-1zM372 423h1v1h-1zM240 424h1v1h-1zM371 424h1v1h-1zM240 425h1v1h-1zM370 425h1v1h-1zM241 426h1v1h-1zM370 426h1v1h-1zM242 427h1v1h-1zM369 427h1v1h-1zM242 428h1v1h-1zM368 428h1v1h-1zM243 429h1v1h-1zM368 429h1v1h-1zM243 430h1v1h-1zM367 430h1v1h-1zM244 431h1v1h-1zM366 431h1v1h-1zM245 432h1v1h-1zM366 432h1v1h-1zM245 433h1v1h-1zM365 433h1v1h-1zM246 434h1v1h-1zM364 434h1v1h-1zM247 435h1v1h-1zM364 435h1v1h-1zM247 436h1v1h-1zM363 436h1v1h-1zM248 437h1v1h-1zM362 437h1v1h-1zM249 438h1v1h-1zM362 438h1v1h-1zM249 439h1v1h-1zM361 439h1v1h-1zM250 440h1v1h-1zM360 440h1v1h-1zM251 441h1v1h-1zM360 441h1v1h-1zM251 442h1v1h-1zM359 442h1v1h-1zM252 443h1v1h-1zM358 443h1v1h-1zM253 444h1v1h-1zM357 444h1v1h-1zM253 445h1v1h-1zM357 445h1v1h-1zM254 446h1v1h-1zM356 446h1v1h-1zM255 447h1v1h-1zM355 447h1v1h-1zM255 448h1v1h-1zM354 448h1v1h-1zM256 449h1v1h-1zM354 449h1v1h-1zM256 450h1v1h-1zM353 450h1v1h-1zM257 451h1v1h-1zM352 451h1v1h-1zM258 452h1v1h-1zM351 452h1v1h-1zM258 453h1v1h-1zM351 453h1v1h-1zM259 454h1v1h-1zM350 454h1v1h-1zM260 455h1v1h-1zM349 455h1v1h-1zM260 456h1v1h-1zM348 456h1v1h-1zM261 457h1v1h-1zM348 457h1v1h-1zM262 458h1v1h-1zM347 458h1v1h-1zM263 459h1v1h-1zM346 459h1v1h-1zM264 460h1v1h-1zM345 460h1v1h-1zM265 461h1v1h-1zM345 461h1v1h-1zM266 462h1v1h-1zM344 462h1v1h-1zM267 463h1v1h-1zM343 463h1v1h-1zM268 464h1v1h-1zM342 464h1v1h-1zM269 465h1v1h-1zM342 465h1v1h-1zM270 466h1v1h-1zM341 466h1v1h-1zM271 467h1v1h-1zM340 467h1v1h-1zM272 468h1v1h-1zM339 468h1v1h-1zM273 469h1v1h-1zM339 469h1v1h-1zM274 470h1v1h-1zM338 470h1v1h-1zM275 471h1v1h-1zM337 471h1v1h-1zM276 472h1v1h-1zM337 472h1v1h-1zM277 473h1v1h-1zM336 473h1v1h-1zM278 474h1v1h-1zM335 474h1v1h-1zM279 475h1v1h-1zM334 475h1v1h-1zM280 476h2v1h-2zM334 476h1v1h-1zM282 477h1v1h-1zM333 477h1v1h-1zM283 478h1v1h-1zM332 478h1v1h-1zM284 479h1v1h-1zM331 479h1v1h-1zM285 480h1v1h-1zM331 480h1v1h-1zM286 481h1v1h-1zM330 481h1v1h-1zM287 482h1v1h-1zM329 482h1v1h-1zM288 483h1v1h-1zM328 483h1v1h-1zM289 484h1v1h-1zM328 484h1v1h-1zM290 485h1v1h-1zM327 485h1v1h-1zM291 486h1v1h-1zM326 486h1v1h-1zM292 487h2v1h-2zM325 487h1v1h-1zM294 488h1v1h-1zM325 488h1v1h-1zM295 489h1v1h-1zM324 489h1v1h-1zM296 490h1v1h-1zM323 490h1v1h-1zM297 491h1v1h-1zM322 491h1v1h-1zM298 492h1v1h-1zM322 492h1v1h-1zM299 493h1v1h-1zM321 493h1v1h-1zM300 494h1v1h-1zM320 494h1v1h-1zM301 495h1v1h-1zM319 495h1v1h-1zM302 496h1v1h-1zM319 496h1v1h-1zM303 497h1v1h-1zM318 497h1v1h-1zM304 498h1v1h-1zM317 498h1v1h-1zM305 499h2v1h-2zM316 499h1v1h-1zM307 500h1v1h-1zM316 500h1v1h-1zM308 501h1v1h-1zM315 501h1v1h-1zM309 502h1v1h-1zM314 502h1v1h-1zM310 503h1v1h-1zM313 503h1v1h-1zM311 504h1v1h-1zM313 504h1v1h-1zM312 505h1v1h-1z" fill="#641490" shape-rendering="crispEdges"/>
<path d="M61 102h1v1h-1zM62 102h1v1h-1zM60 103h1v1h-1zM63 103h1v1h-1zM59 104h1v1h-1zM64 104h1v1h-1zM59 105h1v1h-1zM64 105h1v1h-1zM60 106h1v1h-1zM63 106h1v1h-1zM61 107h1v1h-1zM62 107h1v1h-1z" fill="#641490" shape-rendering="crispEdges"/>
<path d="M311 502h1v1h-1zM312 502h1v1h-1zM310 503h1v1h-1zM313 503h1v1h-1zM309 504h1v1h-1zM314 504h1v1h-1zM309 505h1v1h-1zM314 505h1v1h-1zM310 506h1v1h-1zM313 506h1v1h-1zM311 507h1v1h-1zM312 507h1v1h-1z" fill="#641490" shape-rendering="crispEdges"/>
<path d="M560 117h1v1h-1zM561 117h1v1h-1zM559 118h1v1h-1zM562 118h1v1h-1zM558 119h1v1h-1zM563 119h1v1h-1zM558 120h1v1h-1zM563 120h1v1h-1zM559 121h1v1h-1zM562 121h1v1h-1zM560 122h1v1h-1zM561 122h1v1h-1z" fill="#641490" shape-rendering="crispEdges"/>
<g filter="url(#al)">
<text class="t" x="54" y="74" text-anchor="end">1.45</text>
<text class="t" x="570" y="74">1.45</text>
<text class="t" x="54" y="124" text-anchor="end">1.4</text>
<text class="t" x="570" y="124">1.4</text>
<text class="t" x="54" y="174" text-anchor="end">1.35</text>
<text class="t" x="570" y="174">1.35</text>
<text class="t" x="54" y="224" text-anchor="end">1.3</text>
<text class="t" x="570" y="224">1.3</text>
<text class="t" x="54" y="274" text-anchor="end">1.25</text>
<text class="t" x="570" y="274">1.25</text>
<text class="t" x="54" y="324" text-anchor="end">1.2</text>
<text class="t" x="570" y="324">1.2</text>
<text class="t" x="54" y="375" text-anchor="end">1.15</text>
<text class="t" x="570" y="375">1.15</text>
<text class="t" x="54" y="425" text-anchor="end">1.1</text>
<text class="t" x="570" y="425">1.1</text>
<text class="t" x="54" y="475" text-anchor="end">1.05</text>
<text class="t" x="570" y="475">1.05</text>
<text class="t" x="54" y="525" text-anchor="end">1</text>
<text class="t" x="570" y="525">1</text>
<text class="t" x="54" y="574" text-anchor="end">0.95</text>
<text class="t" x="570" y="574">0.95</text>
<text class="t" x="62.5" y="590" text-anchor="middle">2.4</text>
<text class="t" x="111.5" y="590" text-anchor="middle">2.41</text>
<text class="t" x="161.5" y="590" text-anchor="middle">2.42</text>
<text class="t" x="211.5" y="590" text-anchor="middle">2.43</text>
<text class="t" x="261.5" y="590" text-anchor="middle">2.44</text>
<text class="t" x="311.5" y="590" text-anchor="middle">2.45</text>
<text class="t" x="361.5" y="590" text-anchor="middle">2.46</text>
<text class="t" x="411.5" y="590" text-anchor="middle">2.47</text>
<text class="t" x="461.5" y="590" text-anchor="middle">2.48</text>
<text class="t" x="511.5" y="590" text-anchor="middle">2.49</text>
<text class="t" x="561.5" y="590" text-anchor="middle">2.5</text>
</g>
<g filter="url(#ab)">
<text x="257" y="24" style="font-size:16.8px">VSWR <tspan x="309.8" style="letter-spacing:0.33px">Display</tspan></text>
<text class="b" x="107" y="52">: <tspan x="113">Port 1</tspan></text>
<text class="b" x="311.5" y="605" text-anchor="middle" textLength="58.5" lengthAdjust="spacingAndGlyphs">Freq (GHz)</text>
</g>
<g filter="url(#ac)">
<text class="b" x="20" y="302.5" text-anchor="middle" transform="rotate(-90 20 302.5)">VSWR</text>
<text class="b" x="613" y="302.5" text-anchor="middle" transform="rotate(-90 613 302.5)">VSWR</text>
</g>
</svg>
</body></html>
